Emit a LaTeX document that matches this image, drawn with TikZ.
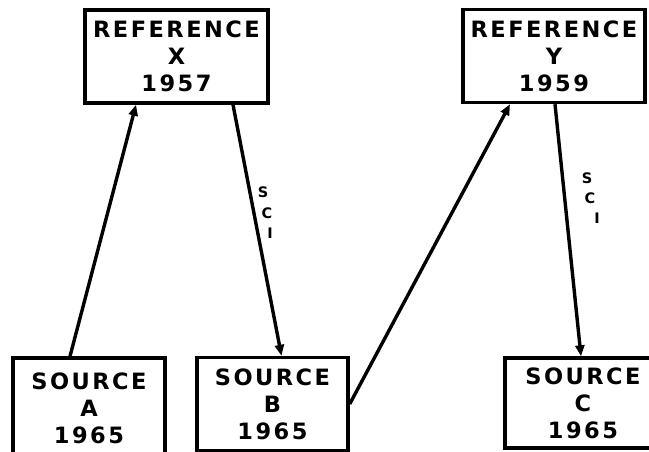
\documentclass[tikz,border=0pt]{standalone}
\usepackage{fontspec}
\newfontfamily\lbl{DejaVu Sans}[LetterSpace=11]
\usetikzlibrary{arrows.meta}
\begin{document}
\begin{tikzpicture}[x=1pt,y=-1pt,
  box/.style={draw, line width=3.4pt, align=center, inner sep=0pt,
    font=\lbl\bfseries\fontsize{22.5}{27}\selectfont},
  link/.style={line width=3.4pt, -{Triangle[length=11pt,width=9pt]}},
  sci/.style={font=\lbl\bfseries\fontsize{14.5}{15}\selectfont, inner sep=0pt}]
\useasboundingbox (0,0) rectangle (649,452);
\node[box, minimum width=183pt, minimum height=93pt] (X) at (176.5,56.5) {REFERENCE\\X\\1957};
\node[box, minimum width=182pt, minimum height=93pt] (Y) at (554,56) {REFERENCE\\Y\\1959};
\node[box, minimum width=152pt, minimum height=100pt] (A) at (89,408) {SOURCE\\A\\1965};
\node[box, minimum width=151pt, minimum height=93pt] (B) at (272.5,404) {SOURCE\\B\\1965};
\node[box, minimum width=156pt, minimum height=90pt] (C) at (583,403) {SOURCE\\C\\1965};
\draw[link] ([xshift=-19pt]A.north) -- ([xshift=-40.5pt]X.south);
\draw[link] ([xshift=56.5pt]X.south) -- ([xshift=9pt]B.north);
\draw[link] (B.east) -- ([xshift=-44pt]Y.south);
\draw[link] ([xshift=1pt]Y.south) -- ([xshift=-2pt]C.north);
\node[sci] (s1) at (263,192) {S};
\node[sci] (c1) at (267,213) {C};
\node[sci] (i1) at (270,233) {I};
\node[sci] (s2) at (587,178) {S};
\node[sci] (c2) at (590,198) {C};
\node[sci] (i2) at (597,218) {I};
\end{tikzpicture}
\end{document}
